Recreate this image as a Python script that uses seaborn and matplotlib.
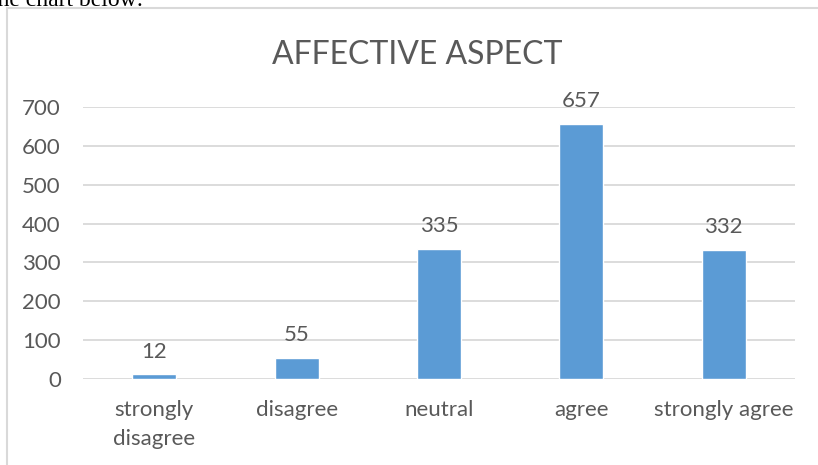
import matplotlib
matplotlib.use("Agg")
import matplotlib.pyplot as plt
import matplotlib.patches as patches
import seaborn as sns
import pandas as pd

# chart data
categories = ["strongly\ndisagree", "disagree", "neutral", "agree", "strongly agree"]
counts = [12, 55, 335, 657, 332]
yticks = [0, 100, 200, 300, 400, 500, 600, 700]

df = pd.DataFrame({"cat": categories, "n": counts})

sns.set_theme(style="white")
plt.rcParams['font.family'] = ['Lato', 'DejaVu Sans']

txt = "#595959"
grid = "#D9D9D9"
bar_col = "#5B9BD5"

fig = plt.figure(figsize=(8.18, 4.65), dpi=100)
ax = fig.add_axes([83/818, 1 - 379/465, 712/818, 272/465])

sns.barplot(data=df, x="cat", y="n", color=bar_col, width=0.31, ax=ax,
            saturation=1, zorder=3)

ax.set_ylim(0, 700)
ax.set_xlim(-0.5, 4.5)
ax.set_yticks(yticks)
ax.yaxis.grid(True, color=grid, linewidth=1.3, zorder=0)
ax.set_axisbelow(True)
for s in ax.spines.values():
    s.set_visible(False)
ax.set_xlabel("")
ax.set_ylabel("")
ax.tick_params(axis="y", labelsize=16, colors=txt, length=0, pad=16)
ax.tick_params(axis="x", labelsize=16, colors=txt, length=0, pad=15)
for lab in ax.get_xticklabels():
    lab.set_linespacing(1.55)

for i, v in enumerate(counts):
    ax.annotate(str(v), (i, v), xytext=(0, 9), textcoords="offset points",
                ha="center", va="bottom", fontsize=16, color=txt)

fig.text(417/818, 1 - 55/465, "AFFECTIVE ASPECT", ha="center", va="center",
         fontsize=23, color=txt)

# chart frame, runs past the right and bottom edge
fig.patches.append(patches.Rectangle((7/818, -0.05), 1.0, 1 - 8/465 + 0.05,
                                     transform=fig.transFigure, fill=False,
                                     edgecolor=grid, linewidth=1.5))

# cut-off line of document text above the chart
fig.text(-9/818, 1 - 1/465, "the chart below:", ha="left", va="center",
         fontsize=17, color="black", family=["Liberation Serif"])

fig.savefig("out.png", dpi=100)
